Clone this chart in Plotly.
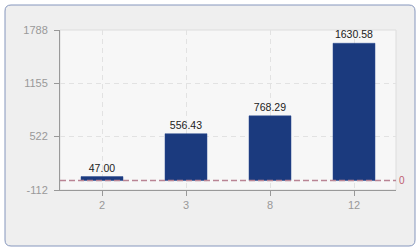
import plotly.graph_objects as go

categories = ["2", "3", "8", "12"]
values = [47.00, 556.43, 768.29, 1630.58]
y_ticks = [-112, 522, 1155, 1788]
y_range = [-112, 1788]
ref_value = 0

W, H = 420, 250
ml, mr, mt, mb = 60, 24, 30, 60
pw, ph = W - ml - mr, H - mt - mb

def px_x(x):
    return (x - ml) / pw

def px_y(y):
    return (H - mb - y) / ph

# rounded outer panel path in paper coords
x0, x1, y0, y1 = px_x(5), px_x(415), px_y(246), px_y(5)
rx, ry = 6 / pw, 6 / ph
panel = (f"M {x0+rx},{y1} L {x1-rx},{y1} Q {x1},{y1} {x1},{y1-ry} "
         f"L {x1},{y0+ry} Q {x1},{y0} {x1-rx},{y0} L {x0+rx},{y0} "
         f"Q {x0},{y0} {x0},{y0+ry} L {x0},{y1-ry} Q {x0},{y1} {x0+rx},{y1} Z")

fig = go.Figure()
fig.add_trace(go.Bar(
    x=categories, y=values, width=0.5,
    marker=dict(color="#1b3a7e", line=dict(color="#2a4a90", width=0.5)),
    texttemplate="%{y:.2f}", textposition="outside", cliponaxis=False,
    textfont=dict(family="Liberation Sans, Arial", size=10.5, color="#222222"),
))

fig.update_layout(
    width=W, height=H,
    margin=dict(l=ml, r=mr, t=mt, b=mb, pad=0),
    paper_bgcolor="white", plot_bgcolor="rgba(0,0,0,0)",
    showlegend=False,
    bargap=0.5,
    shapes=[
        dict(type="path", path=panel, xref="paper", yref="paper",
             fillcolor="#efefef", line=dict(color="#8596bd", width=1), layer="below"),
        dict(type="rect", xref="paper", yref="paper", x0=0, x1=1, y0=0, y1=1,
             fillcolor="#f7f7f7", line=dict(color="#dddddd", width=1), layer="below"),
        dict(type="line", xref="paper", yref="y", x0=0, x1=1, y0=ref_value, y1=ref_value,
             line=dict(color="#b98494", width=1.5, dash="6px,3px"), layer="above"),
    ],
    annotations=[
        dict(xref="paper", yref="y", x=1, y=ref_value, text=str(ref_value),
             showarrow=False, xanchor="left", yanchor="middle", xshift=1,
             font=dict(family="Liberation Sans, Arial", size=10, color="#c06070")),
    ],
)

fig.update_xaxes(
    type="category", categoryorder="array", categoryarray=categories,
    showline=True, linecolor="#999999", linewidth=1,
    ticks="outside", ticklen=5, tickcolor="#999999",
    showgrid=True, gridcolor="#e2e2e2", griddash="5px,4px",
    tickfont=dict(family="Liberation Sans, Arial", size=11, color="#999999"),
    automargin=False, fixedrange=True,
)
fig.update_yaxes(
    range=y_range, tickvals=y_ticks, ticktext=[str(v) for v in y_ticks],
    showline=True, linecolor="#999999", linewidth=1,
    ticks="outside", ticklen=5, tickcolor="#999999",
    showgrid=True, gridcolor="#e2e2e2", griddash="5px,4px",
    zeroline=False, ticklabelstandoff=4,
    tickfont=dict(family="Liberation Sans, Arial", size=11, color="#999999"),
    automargin=False, fixedrange=True,
)

fig.write_html("out.html")
